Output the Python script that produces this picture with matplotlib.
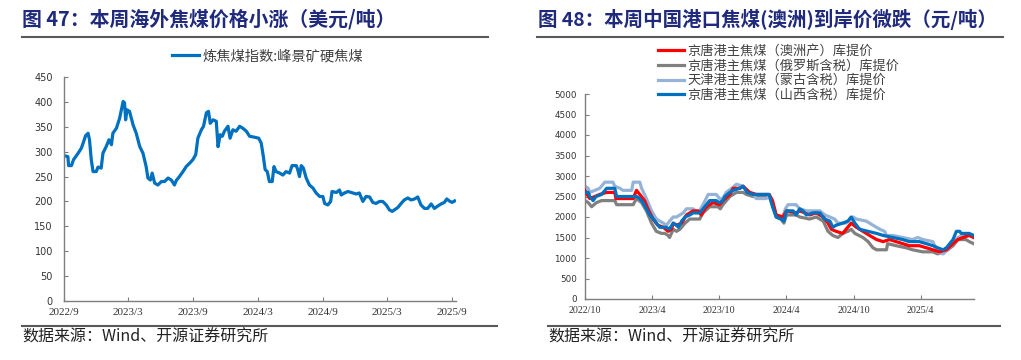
import matplotlib
matplotlib.use("Agg")
import matplotlib.pyplot as plt
from matplotlib.lines import Line2D
from matplotlib.font_manager import FontProperties
import pandas as pd

plt.rcParams['font.family'] = ['Noto Sans CJK SC', 'DejaVu Sans']

# ---------------- data: left chart (USD/t) ----------------
left_title = "图 47：本周海外焦煤价格小涨（美元/吨）"
left_label = "炼焦煤指数:峰景矿硬焦煤"
left_dates = [
    "2022-09-01", "2022-09-12", "2022-09-14", "2022-09-22", "2022-09-28", "2022-10-11", "2022-10-20",
    "2022-10-25", "2022-11-01", "2022-11-08", "2022-11-12", "2022-11-17", "2022-11-22", "2022-12-01",
    "2022-12-06", "2022-12-15", "2022-12-20", "2022-12-29", "2023-01-06", "2023-01-13", "2023-01-17",
    "2023-01-27", "2023-02-05", "2023-02-15", "2023-02-19", "2023-02-22", "2023-02-26", "2023-03-05",
    "2023-03-15", "2023-03-24", "2023-04-03", "2023-04-12", "2023-04-21", "2023-04-26", "2023-05-03",
    "2023-05-08", "2023-05-15", "2023-05-24", "2023-06-03", "2023-06-12", "2023-06-22", "2023-07-01",
    "2023-07-10", "2023-07-15", "2023-07-24", "2023-08-03", "2023-08-12", "2023-08-22", "2023-08-31",
    "2023-09-08", "2023-09-14", "2023-09-24", "2023-09-30", "2023-10-08", "2023-10-14", "2023-10-19",
    "2023-10-27", "2023-11-05", "2023-11-10", "2023-11-16", "2023-11-22", "2023-11-28", "2023-12-08",
    "2023-12-14", "2023-12-22", "2023-12-31", "2024-01-10", "2024-01-19", "2024-01-29", "2024-02-07",
    "2024-02-21", "2024-03-04", "2024-03-11", "2024-03-17", "2024-03-22", "2024-03-28", "2024-04-03",
    "2024-04-11", "2024-04-16", "2024-04-22", "2024-05-02", "2024-05-11", "2024-05-20", "2024-05-30",
    "2024-06-06", "2024-06-18", "2024-06-22", "2024-06-27", "2024-07-02", "2024-07-08", "2024-07-16",
    "2024-07-25", "2024-08-04", "2024-08-13", "2024-08-23", "2024-09-01", "2024-09-06", "2024-09-15",
    "2024-09-23", "2024-09-27", "2024-10-09", "2024-10-18", "2024-10-23", "2024-11-01", "2024-11-11",
    "2024-11-20", "2024-12-04", "2024-12-13", "2024-12-23", "2025-01-01", "2025-01-11", "2025-01-20",
    "2025-01-29", "2025-02-08", "2025-02-17", "2025-02-27", "2025-03-08", "2025-03-16", "2025-03-22",
    "2025-04-01", "2025-04-10", "2025-04-19", "2025-04-29", "2025-05-08", "2025-05-18", "2025-05-27",
    "2025-06-05", "2025-06-15", "2025-06-24", "2025-07-04", "2025-07-13", "2025-07-23", "2025-08-01",
    "2025-08-10", "2025-08-17", "2025-08-24", "2025-09-01", "2025-09-08",
]
left_values = [
    292, 290, 272, 272, 284, 297, 307,
    317, 332, 337, 324, 284, 260, 260,
    269, 267, 297, 310, 324, 314, 337,
    347, 367, 401, 398, 364, 384, 381,
    354, 337, 310, 297, 270, 247, 243,
    257, 237, 233, 240, 240, 247, 243,
    233, 242, 250, 260, 270, 277, 284,
    294, 327, 344, 351, 378, 381, 357,
    364, 361, 310, 334, 331, 341, 351,
    327, 344, 341, 351, 347, 341, 331,
    329, 327, 317, 290, 264, 260, 240,
    240, 270, 260, 257, 253, 260, 257,
    272, 272, 264, 250, 272, 267, 247,
    233, 227, 217, 210, 210, 196, 193,
    200, 220, 218, 223, 213, 217, 220,
    218, 215, 217, 200, 210, 209, 198,
    196, 200, 200, 193, 183, 180, 183,
    188, 196, 203, 207, 203, 205, 209,
    193, 186, 186, 195, 186, 191, 195,
    198, 205, 201, 198, 201,
]
left_yticks = [0, 50, 100, 150, 200, 250, 300, 350, 400, 450]
left_xticks = ["2022-09-01", "2023-03-01", "2023-09-01", "2024-03-01", "2024-09-01", "2025-03-01", "2025-09-01"]
left_xticklabels = ["2022/9", "2023/3", "2023/9", "2024/3", "2024/9", "2025/3", "2025/9"]

# ---------------- data: right chart (CNY/t) ----------------
right_title = "图 48：本周中国港口焦煤(澳洲)到岸价微跌（元/吨）"
right_labels = [
    "京唐港主焦煤（澳洲产）库提价",
    "京唐港主焦煤（俄罗斯含税）库提价",
    "天津港主焦煤（蒙古含税）库提价",
    "京唐港主焦煤（山西含税）库提价",
]
red_dates = [
    "2022-10-01", "2022-10-10", "2022-10-14", "2022-10-28", "2022-11-10", "2022-11-29", "2022-12-21",
    "2022-12-24", "2023-02-09", "2023-02-18", "2023-02-27", "2023-03-12", "2023-03-21", "2023-04-04",
    "2023-04-17", "2023-05-02", "2023-05-15", "2023-05-24", "2023-05-29", "2023-06-07", "2023-06-21",
    "2023-07-04", "2023-07-22", "2023-08-05", "2023-08-13", "2023-08-27", "2023-09-14", "2023-10-02",
    "2023-10-11", "2023-10-30", "2023-11-08", "2023-11-26", "2023-12-05", "2023-12-23", "2024-01-10",
    "2024-02-14", "2024-02-23", "2024-03-04", "2024-03-22", "2024-04-01", "2024-04-27", "2024-05-07",
    "2024-06-03", "2024-06-21", "2024-07-10", "2024-07-23", "2024-08-01", "2024-08-14", "2024-09-01",
    "2024-09-10", "2024-09-24", "2024-10-08", "2024-10-26", "2024-11-13", "2024-12-02", "2024-12-20",
    "2025-01-06", "2025-01-24", "2025-02-11", "2025-03-01", "2025-03-28", "2025-04-16", "2025-05-04",
    "2025-05-22", "2025-06-10", "2025-06-28", "2025-07-11", "2025-07-25", "2025-08-11", "2025-08-23",
]
red_values = [
    2650, 2500, 2450, 2500, 2550, 2600, 2600,
    2450, 2450, 2650, 2550, 2400, 2200, 1950,
    1800, 1750, 1650, 1700, 1850, 1800, 1850,
    2050, 2150, 2150, 2050, 2250, 2350, 2300,
    2400, 2550, 2700, 2700, 2750, 2600, 2550,
    2550, 2400, 2050, 2000, 2150, 2100, 2150,
    2050, 2100, 2000, 1850, 1700, 1650, 1600,
    1700, 1850, 1750, 1650, 1550, 1450, 1400,
    1450, 1400, 1350, 1300, 1300, 1250, 1200,
    1150, 1200, 1350, 1450, 1500, 1550, 1500,
]
gray_dates = [
    "2022-10-01", "2022-10-10", "2022-10-19", "2022-11-01", "2022-11-15", "2022-12-21", "2022-12-26",
    "2023-02-09", "2023-02-18", "2023-03-04", "2023-03-17", "2023-03-31", "2023-04-13", "2023-04-27",
    "2023-05-06", "2023-05-15", "2023-05-19", "2023-05-29", "2023-06-07", "2023-06-16", "2023-06-30",
    "2023-07-13", "2023-08-09", "2023-08-18", "2023-09-05", "2023-09-28", "2023-10-04", "2023-10-11",
    "2023-10-30", "2023-11-17", "2023-12-05", "2023-12-14", "2024-01-01", "2024-02-14", "2024-02-23",
    "2024-03-04", "2024-03-17", "2024-03-25", "2024-04-01", "2024-04-27", "2024-05-07", "2024-06-03",
    "2024-06-21", "2024-07-10", "2024-07-23", "2024-08-05", "2024-08-19", "2024-09-01", "2024-09-15",
    "2024-09-24", "2024-10-04", "2024-10-26", "2024-11-09", "2024-11-22", "2024-12-02", "2024-12-29",
    "2025-01-01", "2025-01-24", "2025-02-20", "2025-03-10", "2025-04-07", "2025-05-04", "2025-05-17",
    "2025-06-01", "2025-06-14", "2025-06-28", "2025-07-11", "2025-08-02", "2025-08-11", "2025-08-23",
]
gray_values = [
    2400, 2350, 2250, 2350, 2400, 2400, 2300,
    2300, 2450, 2350, 2150, 1850, 1650, 1600,
    1600, 1550, 1500, 1700, 1650, 1700, 1850,
    1950, 1950, 2100, 2250, 2250, 2200, 2300,
    2500, 2600, 2600, 2550, 2500, 2500, 2300,
    2000, 1950, 1850, 2050, 2050, 2000, 1950,
    2000, 1900, 1650, 1550, 1500, 1600, 1650,
    1700, 1600, 1500, 1400, 1250, 1200, 1200,
    1350, 1300, 1250, 1200, 1150, 1150, 1100,
    1150, 1200, 1300, 1450, 1450, 1400, 1350,
]
lblue_dates = [
    "2022-10-01", "2022-10-10", "2022-10-14", "2022-10-28", "2022-11-10", "2022-11-24", "2022-12-16",
    "2022-12-21", "2023-01-04", "2023-01-12", "2023-02-05", "2023-02-09", "2023-02-27", "2023-03-04",
    "2023-03-17", "2023-03-31", "2023-04-13", "2023-05-02", "2023-05-11", "2023-05-19", "2023-05-29",
    "2023-06-07", "2023-06-25", "2023-07-04", "2023-07-22", "2023-08-05", "2023-08-18", "2023-09-01",
    "2023-09-23", "2023-10-02", "2023-10-11", "2023-10-20", "2023-11-04", "2023-11-17", "2023-12-05",
    "2023-12-14", "2024-01-01", "2024-01-10", "2024-02-06", "2024-02-14", "2024-02-23", "2024-03-04",
    "2024-03-22", "2024-03-29", "2024-04-05", "2024-04-27", "2024-05-07", "2024-05-25", "2024-07-01",
    "2024-07-14", "2024-07-28", "2024-08-10", "2024-08-19", "2024-09-10", "2024-09-29", "2024-10-08",
    "2024-11-04", "2024-11-22", "2024-12-11", "2024-12-24", "2024-12-29", "2025-01-15", "2025-02-11",
    "2025-03-10", "2025-03-24", "2025-04-07", "2025-05-04", "2025-05-17", "2025-06-01", "2025-06-14",
    "2025-06-28", "2025-07-11", "2025-07-25", "2025-08-23",
]
lblue_values = [
    2750, 2700, 2600, 2650, 2700, 2850, 2850,
    2750, 2700, 2650, 2650, 2850, 2850, 2700,
    2450, 2150, 1950, 1850, 1800, 1900, 2000,
    2000, 2100, 2200, 2200, 2100, 2300, 2550,
    2550, 2450, 2450, 2600, 2700, 2800, 2750,
    2650, 2550, 2450, 2450, 2500, 2300, 2050,
    2000, 2200, 2300, 2300, 2200, 2150, 2150,
    2050, 2000, 1950, 1850, 1850, 2000, 1950,
    1900, 1800, 1700, 1650, 1550, 1550, 1500,
    1450, 1500, 1450, 1400, 1150, 1100, 1200,
    1350, 1500, 1550, 1550,
]
dblue_dates = [
    "2022-10-01", "2022-10-10", "2022-10-14", "2022-10-23", "2022-10-31", "2022-11-15", "2022-11-29",
    "2022-12-21", "2022-12-26", "2023-02-18", "2023-02-27", "2023-03-08", "2023-03-17", "2023-03-26",
    "2023-04-05", "2023-04-13", "2023-04-22", "2023-05-10", "2023-05-18", "2023-05-29", "2023-06-07",
    "2023-06-12", "2023-06-21", "2023-06-30", "2023-07-13", "2023-07-22", "2023-08-09", "2023-08-18",
    "2023-09-05", "2023-09-23", "2023-10-01", "2023-10-11", "2023-10-16", "2023-10-30", "2023-11-08",
    "2023-11-26", "2023-12-05", "2023-12-16", "2024-01-01", "2024-02-14", "2024-02-23", "2024-03-04",
    "2024-03-17", "2024-03-25", "2024-04-01", "2024-04-19", "2024-04-27", "2024-05-07", "2024-05-16",
    "2024-05-25", "2024-06-12", "2024-07-01", "2024-07-14", "2024-07-28", "2024-08-05", "2024-08-14",
    "2024-09-01", "2024-09-15", "2024-09-24", "2024-10-04", "2024-10-17", "2024-11-09", "2024-12-02",
    "2024-12-20", "2025-01-15", "2025-02-11", "2025-03-01", "2025-03-28", "2025-04-16", "2025-05-04",
    "2025-05-17", "2025-06-01", "2025-06-10", "2025-06-19", "2025-06-28", "2025-07-07", "2025-07-16",
    "2025-07-20", "2025-08-11", "2025-08-23",
]
dblue_values = [
    2600, 2600, 2500, 2400, 2500, 2550, 2700,
    2700, 2500, 2500, 2450, 2350, 2200, 2050,
    1950, 1850, 1750, 1750, 1700, 1850, 1800,
    1750, 1900, 2000, 2050, 2100, 2100, 2200,
    2400, 2400, 2350, 2400, 2500, 2600, 2650,
    2700, 2750, 2600, 2550, 2550, 2250, 2000,
    1950, 1900, 2150, 2150, 2050, 2200, 2150,
    2050, 2100, 2100, 1950, 1900, 1750, 1800,
    1850, 1900, 2000, 1850, 1700, 1650, 1600,
    1550, 1500, 1450, 1400, 1400, 1350, 1300,
    1250, 1200, 1250, 1350, 1450, 1650, 1650,
    1600, 1600, 1550,
]
right_yticks = [0, 500, 1000, 1500, 2000, 2500, 3000, 3500, 4000, 4500, 5000]
right_xticks = ["2022-10-01", "2023-04-01", "2023-10-01", "2024-04-01", "2024-10-01", "2025-04-01"]
right_xticklabels = ["2022/10", "2023/4", "2023/10", "2024/4", "2024/10", "2025/4"]

source_text = "数据来源：Wind、开源证券研究所"

# ---------------- styles ----------------
W, H = 1021, 360
TITLE_COLOR = "#1f2a7c"
RULE_COLOR = "#595959"
AX_COLOR = "#7f7f7f"
BLUE = "#0070C0"
RED = "#FF0000"
GRAY = "#808080"
LBLUE = "#95B3D7"
LW = 2.3

fig = plt.figure(figsize=(W / 100, H / 100), dpi=100)


def fx(px):
    return px / W


def fy(py):
    return 1 - py / H


def rule(x0, x1, y, lw=1.5):
    fig.add_artist(Line2D([fx(x0), fx(x1)], [fy(y), fy(y)], transform=fig.transFigure,
                          color=RULE_COLOR, lw=lw))


def style_axes(ax, yfont, xfont):
    for s in ("top", "right"):
        ax.spines[s].set_visible(False)
    for s in ("left", "bottom"):
        ax.spines[s].set_color(AX_COLOR)
        ax.spines[s].set_linewidth(1.0)
    ax.tick_params(axis="both", direction="in", length=3, width=0.8, color=AX_COLOR,
                   labelcolor="#333333")
    for lab in ax.get_yticklabels():
        lab.set_fontproperties(yfont)
    for lab in ax.get_xticklabels():
        lab.set_fontproperties(xfont)


# ---------------- left chart ----------------
fig.text(fx(22), fy(19), left_title, fontsize=14.3, fontweight="bold", color=TITLE_COLOR,
         ha="left", va="center")
rule(22, 488, 37)
rule(22, 497, 326)
fig.text(fx(22), fy(337), source_text, fontsize=11.5, color="#222222", ha="left", va="center",
         family=["Noto Sans CJK SC", "DejaVu Sans"])

axL = fig.add_axes([fx(64), fy(301), fx(456) - fx(64), fy(77) - fy(301)])
axL.plot(pd.to_datetime(left_dates), left_values, color=BLUE, lw=LW, label=left_label)
axL.set_ylim(0, 450)
axL.set_yticks(left_yticks)
axL.set_xlim(pd.Timestamp("2022-09-01"), pd.Timestamp("2025-09-12"))
axL.set_xticks(pd.to_datetime(left_xticks))
axL.set_xticklabels(left_xticklabels)
axL.tick_params(axis="y", pad=8)
axL.tick_params(axis="x", pad=5)
style_axes(axL, FontProperties(family="DejaVu Sans", size=7),
           FontProperties(family="Liberation Serif", size=8))
axL.legend(loc="center left", bbox_to_anchor=(fx(172), fy(56)), bbox_transform=fig.transFigure,
           frameon=False, fontsize=10.3, handlelength=1.9, handletextpad=0.25, borderpad=0,
           borderaxespad=0, labelcolor="#404040")

# ---------------- right chart ----------------
fig.text(fx(538), fy(19), right_title, fontsize=14, fontweight="bold", color=TITLE_COLOR,
         ha="left", va="center")
rule(537, 1003, 37)
rule(548, 1000, 326)
fig.text(fx(548), fy(337), source_text, fontsize=11.5, color="#222222", ha="left", va="center",
         family=["Noto Sans CJK SC", "DejaVu Sans"])

axR = fig.add_axes([fx(585), fy(299), fx(974) - fx(585), fy(94) - fy(299)])
axR.plot(pd.to_datetime(red_dates), red_values, color=RED, lw=LW, label=right_labels[0], zorder=3)
axR.plot(pd.to_datetime(gray_dates), gray_values, color=GRAY, lw=LW, label=right_labels[1], zorder=2)
axR.plot(pd.to_datetime(lblue_dates), lblue_values, color=LBLUE, lw=LW, label=right_labels[2], zorder=2.5)
axR.plot(pd.to_datetime(dblue_dates), dblue_values, color=BLUE, lw=LW, label=right_labels[3], zorder=4)
axR.set_ylim(0, 5000)
axR.set_yticks(right_yticks)
axR.set_xlim(pd.Timestamp("2022-10-01"), pd.Timestamp("2025-08-24"))
axR.set_xticks(pd.to_datetime(right_xticks))
axR.set_xticklabels(right_xticklabels)
axR.tick_params(axis="y", pad=6)
axR.tick_params(axis="x", pad=5)
style_axes(axR, FontProperties(family="DejaVu Sans", size=6.3),
           FontProperties(family="Liberation Serif", size=7.2))
axR.legend(loc="upper left", bbox_to_anchor=(fx(658), fy(45)), bbox_transform=fig.transFigure,
           frameon=False, fontsize=9.5, handlelength=2.0, handletextpad=0.25, borderpad=0,
           borderaxespad=0, labelspacing=0.12, labelcolor="#404040")

fig.savefig("out.png", dpi=100)
